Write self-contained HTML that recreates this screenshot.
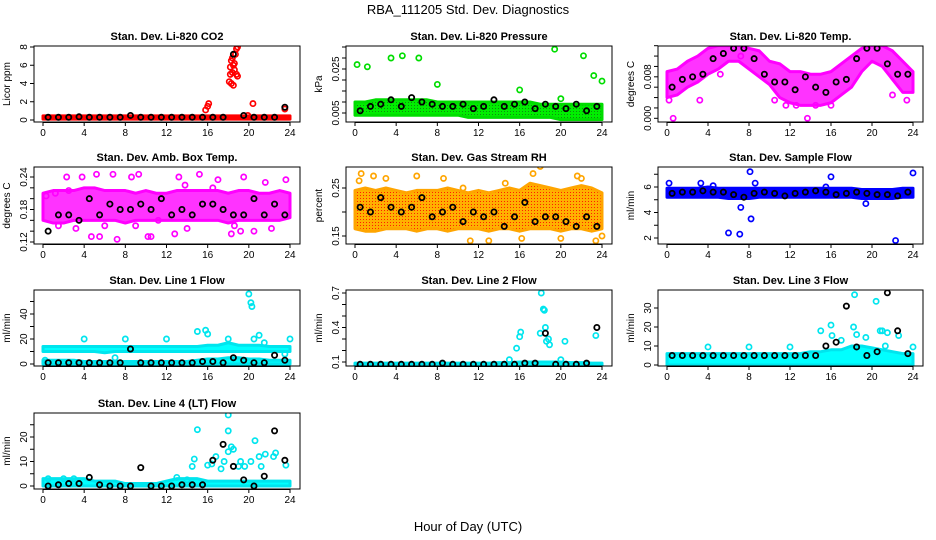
<!DOCTYPE html>
<html><head><meta charset="utf-8">
<style>
html,body{margin:0;padding:0;background:#fff;}
svg{display:block;font-family:"Liberation Sans",sans-serif;}
</style></head>
<body>
<svg id="chart" width="936" height="540" viewBox="0 0 936 540">
<defs>
<pattern id="rhdots" width="3" height="3" patternUnits="userSpaceOnUse"><rect width="3" height="3" fill="#ffb000"/><rect width="1" height="1" fill="#ff2000"/></pattern>
<pattern id="grdots" width="3" height="3" patternUnits="userSpaceOnUse"><rect width="3" height="3" fill="#00ee00"/><rect width="1" height="1" fill="#118811"/></pattern>
</defs>
<text x="468" y="14" text-anchor="middle" font-size="13">RBA_111205  Std. Dev. Diagnostics</text>
<text x="468" y="531" text-anchor="middle" font-size="13">Hour of Day (UTC)</text>
</svg>
<script>
// shared hours
const BAND_HOURS = [0,1,2,3,4,5,6,7,8,9,10,11,12,13,14,15,16,17,18,19,20,21,22,23,24];
const BLACK_HOURS = [0.5,1.5,2.5,3.5,4.5,5.5,6.5,7.5,8.5,9.5,10.5,11.5,12.5,13.5,14.5,15.5,16.5,17.5,18.5,19.5,20.5,21.5,22.5,23.5];
const X_TICKS = [0,4,8,12,16,20,24];

// CO2
const co2Lo = [0.1,0.1,0.1,0.1,0.1,0.1,0.1,0.1,0.1,0.1,0.1,0.1,0.1,0.1,0.1,0.1,0.1,0.1,0.1,0.1,0.1,0.1,0.1,0.1,0.1];
const co2Hi = [0.45,0.45,0.45,0.45,0.45,0.45,0.45,0.45,0.45,0.45,0.45,0.45,0.45,0.45,0.45,0.45,0.45,0.45,0.45,0.45,0.45,0.45,0.45,0.45,0.45];
const co2OutX = [18.1,18.2,18.3,18.4,18.5,18.6,18.7,18.8,18.9,18.8,18.9,18.3,18.5,18.2,18.6,18.4,15.8,16.0,16.1,20.4,23.5,19.9];
const co2OutY = [4.2,5.8,6.5,5.2,3.8,6.2,7.2,7.8,8.0,5.0,4.8,4.0,6.0,5.0,5.5,6.8,1.1,1.5,1.8,1.8,1.2,0.5];
const co2Black = [0.3,0.3,0.3,0.35,0.3,0.3,0.3,0.3,0.5,0.3,0.3,0.3,0.3,0.3,0.3,0.3,0.3,0.3,7.2,0.5,0.3,0.3,0.3,1.4];
// Pressure
const prLo = [0.004,0.004,0.004,0.004,0.004,0.004,0.004,0.004,0.004,0.004,0.004,0.003,0.003,0.003,0.003,0.003,0.003,0.003,0.003,0.003,0.002,0.002,0.002,0.002,0.002];
const prHi = [0.010,0.010,0.011,0.011,0.011,0.011,0.011,0.011,0.010,0.010,0.010,0.010,0.010,0.010,0.010,0.010,0.010,0.010,0.009,0.009,0.009,0.009,0.009,0.009,0.009];
const prOutX = [0.2,1.2,3.5,4.6,6.2,8.0,16.0,19.4,20.0,22.2,23.2,24.0];
const prOutY = [0.027,0.026,0.030,0.031,0.030,0.018,0.0155,0.034,0.0115,0.031,0.022,0.0195];
const prBlack = [0.006,0.008,0.009,0.011,0.008,0.012,0.010,0.009,0.008,0.008,0.009,0.007,0.008,0.011,0.008,0.009,0.010,0.007,0.009,0.008,0.007,0.009,0.006,0.008];
// Li-820 temp
const ltLo = [0.004,0.0045,0.006,0.007,0.0085,0.0095,0.011,0.011,0.0095,0.008,0.0065,0.004,0.003,0.0025,0.0025,0.0025,0.003,0.0045,0.006,0.009,0.011,0.010,0.0075,0.005,0.005];
const ltHi = [0.009,0.0095,0.011,0.012,0.0135,0.014,0.014,0.014,0.0135,0.013,0.011,0.0105,0.009,0.009,0.0085,0.0085,0.009,0.0105,0.012,0.0135,0.014,0.014,0.013,0.011,0.009];
const ltOutX = [0.6,0.2,3.2,5.2,7.2,10.5,11.6,13.7,14.5,16.0,22.0,23.4,12.6];
const ltOutY = [0.0,0.0035,0.0035,0.0085,0.0120,0.0035,0.0025,0.0,0.0025,0.0025,0.0045,0.0035,0.0025];
const ltBlack = [0.006,0.0075,0.008,0.0085,0.0115,0.0125,0.0135,0.0135,0.0115,0.0085,0.007,0.007,0.0055,0.008,0.006,0.005,0.007,0.0075,0.0115,0.0135,0.0135,0.0105,0.0085,0.0085];
// Amb box temp
const abLo = [0.16,0.155,0.155,0.16,0.16,0.16,0.16,0.16,0.155,0.16,0.16,0.16,0.16,0.16,0.16,0.16,0.16,0.16,0.155,0.16,0.16,0.16,0.16,0.16,0.165];
const abHi = [0.21,0.215,0.215,0.215,0.22,0.22,0.215,0.215,0.215,0.21,0.215,0.21,0.21,0.215,0.215,0.215,0.215,0.215,0.21,0.215,0.215,0.21,0.21,0.215,0.21];
const abOutX = [0.3,1.5,2.3,2.5,3.8,4.7,5.2,5.5,6.8,7.2,8.6,9.3,10.2,10.5,11.2,13.2,13.8,15.2,16.5,17.0,18.3,19.2,19.5,20.5,21.6,23.6,3.2,6.0,9.0,14.0,18.6,22.2,1.2,12.8];
const abOutY = [0.205,0.15,0.24,0.215,0.24,0.13,0.245,0.13,0.245,0.125,0.24,0.245,0.13,0.13,0.16,0.24,0.225,0.245,0.22,0.235,0.135,0.14,0.24,0.14,0.23,0.235,0.145,0.15,0.15,0.145,0.15,0.145,0.21,0.135];
const abBlack = [0.14,0.17,0.17,0.16,0.20,0.17,0.19,0.18,0.18,0.19,0.18,0.20,0.17,0.18,0.17,0.19,0.19,0.18,0.17,0.17,0.20,0.17,0.19,0.17];
// RH
const rhLo = [0.165,0.16,0.16,0.165,0.165,0.165,0.16,0.165,0.165,0.16,0.165,0.165,0.165,0.16,0.165,0.165,0.16,0.165,0.165,0.165,0.16,0.165,0.165,0.16,0.165];
const rhHi = [0.245,0.25,0.245,0.25,0.245,0.24,0.245,0.245,0.245,0.25,0.245,0.24,0.245,0.24,0.245,0.25,0.245,0.26,0.255,0.25,0.245,0.25,0.255,0.25,0.24];
const rhOutX = [0.4,0.6,1.8,3.0,6.0,8.6,11.2,13.0,14.6,16.2,17.3,18.0,20.0,21.6,23.4,24.0,10.5,22.0];
const rhOutY = [0.265,0.28,0.275,0.27,0.275,0.27,0.14,0.14,0.26,0.145,0.28,0.295,0.145,0.275,0.14,0.15,0.25,0.27];
const rhBlack = [0.21,0.20,0.23,0.21,0.20,0.21,0.23,0.19,0.20,0.21,0.18,0.20,0.19,0.20,0.17,0.19,0.22,0.18,0.19,0.19,0.18,0.17,0.19,0.17];
// Sample flow
const sfLo = [5.2,5.2,5.2,5.2,5.2,5.2,5.1,5.1,5.1,5.2,5.2,5.2,5.2,5.2,5.2,5.2,5.2,5.2,5.2,5.1,5.1,5.1,5.1,5.2,5.2];
const sfHi = [5.9,5.9,5.9,5.9,6.0,5.9,5.9,5.9,5.9,5.9,5.9,5.9,5.9,5.9,5.9,5.9,5.9,5.9,5.9,5.8,5.8,5.8,5.8,5.9,5.9];
const sfOutX = [6.0,7.1,7.2,8.1,8.2,8.6,16.0,22.3,24.0,0.2,3.3,19.4,4.5,15.5];
const sfOutY = [2.4,2.3,4.4,7.2,3.5,6.3,6.8,1.8,7.1,6.3,6.3,4.7,6.1,6.0];
const sfBlack = [5.5,5.6,5.6,5.7,5.6,5.6,5.4,5.2,5.5,5.6,5.5,5.3,5.5,5.6,5.7,5.6,5.4,5.5,5.6,5.5,5.4,5.4,5.3,5.6];
// Line 1
const l1Lo = [10,10,10,10,10,10,9,10,10,10,10,10,10,10,10,10,10,10,10,10,10,10,10,10,10];
const l1Hi = [14,14,14,14,14,14,14,14,14,14,14,14,14,14,14,14,15,15,17,15,15,15,14,14,14];
const l1Out2Hi = [3,3,3,3,2,2,2,2,2,2,2,2,2,2,2,3,4,4,5,5,4,4,3,3,3];
const l1OutX = [4,8,12,15,15.8,16,20,20.2,20.3,21,20.5,24,18,21.5,0.2,7.0,23.5];
const l1OutY = [20,20,20,26,27,24,56,49,46,23,20,20,20,17,3,5,8];
const l1Black = [1,1,1,1,1,1,1,1,12,1,1,1,1,1,1,2,2,1,5,3,1,1,7,3];
// Line 2
const l2Lo = [0.065,0.065,0.065,0.065,0.065,0.065,0.065,0.065,0.065,0.065,0.065,0.065,0.065,0.065,0.065,0.065,0.065,0.065,0.065,0.065,0.065,0.065,0.065,0.065,0.065];
const l2Hi = [0.09,0.09,0.09,0.09,0.09,0.09,0.09,0.09,0.09,0.09,0.09,0.09,0.09,0.09,0.095,0.095,0.1,0.1,0.1,0.1,0.1,0.095,0.095,0.09,0.09];
const l2OutX = [15.7,16.0,16.1,18.0,18.1,18.3,18.4,18.6,18.8,18.5,18.9,20.4,23.4,15.0,20.0];
const l2OutY = [0.22,0.32,0.36,0.35,0.7,0.56,0.55,0.28,0.3,0.4,0.25,0.28,0.33,0.12,0.12];
const l2Black = [0.08,0.08,0.08,0.08,0.08,0.08,0.08,0.08,0.09,0.08,0.08,0.08,0.08,0.08,0.08,0.08,0.09,0.09,0.35,0.08,0.08,0.08,0.09,0.4];
// Line 3
const l3Lo = [0,0,0,0,0,0,0,0,0,0,0,0,0,0,0,0,0,0,0,0,0,0,0,0,0];
const l3Hi = [6,6,6,6,6,6,6,6,6,6,6,6,6,6,7,7,8,8,10,10,9,8,7,6,6];
const l3OutX = [4,8,12,15,16,16.1,18.3,18.2,18.5,19.4,20.4,20.8,21,21.3,21.5,22.6,24,17];
const l3OutY = [9.5,9.5,9.5,18,21,15.5,37,20,16,14.5,33.5,18,18,10,17,15.5,9.5,13];
const l3Black = [5,5,5,5,5,5,5,5,5,5,5,5,5,5,5,10,12,31,9.5,5,7,38,18,6];
// Line 4
const l4Lo = [0,0,0,0,0,0,0,0,0,0,0,0,0,0,0,0,0,0,0,0,0,0,0,0,0];
const l4Hi = [3,3,3,3,3,2,2,2,1,1,1,1,2,3,3,3,2,2,2,2,2,2,2,2,2];
const l4OutX = [15,14.7,14.5,16,16.4,16.8,17.3,17.6,18,18,18,18.3,18.5,19,19.2,19.6,20.2,20.6,21,21.2,21.6,22.4,22.6,23.6,13,14,0.5,2,3];
const l4OutY = [23,11,8,8.5,9,12,7,10,29,22.5,14,16,15,8,10,8,10,18.5,12,8,13,12,13.5,8.5,3.5,2.5,3,3,3];
const l4Black = [0,0.5,1,1,3.5,0.5,0,0,0,7.5,0,0,0,0.5,0.5,0.5,10.5,17,8,2.5,0,4,22.5,10.5];

const COLS = [[34,300],[346,612],[658,923]];
const ROWS = [[46,122],[167,244],[290,366],[413,489]];
const svg = document.getElementById('chart');
const NS = 'http://www.w3.org/2000/svg';
function mk(tag, attrs, parent){
  const e = document.createElementNS(NS, tag);
  for (const k in attrs) e.setAttribute(k, attrs[k]);
  (parent||svg).appendChild(e);
  return e;
}

const panels = [
 {id:'co2',title:'Stan. Dev. Li-820 CO2',ylab:'Licor ppm',c:0,r:0,ref:[0,120,8,47],ticks:[0,2,4,6,8],labels:['0','2','4','6','8'],color:'#ff0000',fill:'#ff0000',bands:[[co2Lo,co2Hi]],ox:co2OutX,oy:co2OutY,black:co2Black},
 {id:'pressure',title:'Stan. Dev. Li-820 Pressure',ylab:'kPa',c:1,r:0,ref:[0.005,113,0.025,69],ticks:[0.005,0.01,0.015,0.02,0.025,0.03,0.035],labels:['0.005','','','','0.025','',''],color:'#00dd00',fill:'url(#grdots)',bands:[[prLo,prHi]],ox:prOutX,oy:prOutY,black:prBlack},
 {id:'li820-temp',title:'Stan. Dev. Li-820 Temp.',ylab:'degrees C',c:2,r:0,ref:[0,118.3,0.014,45.7],ticks:[0,0.002,0.004,0.006,0.008,0.010,0.012,0.014],labels:['0.000','','','','0.008','','',''],color:'#ff00ff',fill:'#ff33ff',bands:[[ltLo,ltHi]],ox:ltOutX,oy:ltOutY,black:ltBlack},
 {id:'amb-box-temp',title:'Stan. Dev. Amb. Box Temp.',ylab:'degrees C',c:0,r:1,ref:[0.12,242,0.24,177],ticks:[0.12,0.14,0.16,0.18,0.20,0.22,0.24],labels:['0.12','','','0.18','','','0.24'],color:'#ff00ff',fill:'#ff33ff',bands:[[abLo,abHi]],ox:abOutX,oy:abOutY,black:abBlack},
 {id:'gas-rh',title:'Stan. Dev. Gas Stream RH',ylab:'percent',c:1,r:1,ref:[0.15,236,0.25,188],ticks:[0.15,0.2,0.25],labels:['0.15','','0.25'],color:'#ffa500',fill:'url(#rhdots)',bands:[[rhLo,rhHi]],ox:rhOutX,oy:rhOutY,black:rhBlack},
 {id:'sample-flow',title:'Stan. Dev. Sample Flow',ylab:'ml/min',c:2,r:1,ref:[2,238,6,187],ticks:[2,3,4,5,6,7],labels:['2','','4','','6',''],color:'#0000ff',fill:'#0000ff',bands:[[sfLo,sfHi]],ox:sfOutX,oy:sfOutY,black:sfBlack},
 {id:'line1-flow',title:'Stan. Dev. Line 1 Flow',ylab:'ml/min',c:0,r:2,ref:[0,364,40,314],ticks:[0,10,20,30,40,50],labels:['0','','20','','40',''],color:'#00e5ee',fill:'#00ffff',bands:[[l1Lo,l1Hi],[l4Lo,l1Out2Hi]],ox:l1OutX,oy:l1OutY,black:l1Black},
 {id:'line2-flow',title:'Stan. Dev. Line 2 Flow',ylab:'ml/min',c:1,r:2,ref:[0.1,362,0.7,293],ticks:[0.1,0.2,0.3,0.4,0.5,0.6,0.7],labels:['0.1','','','0.4','','','0.7'],color:'#00e5ee',fill:'#00ffff',bands:[[l2Lo,l2Hi]],ox:l2OutX,oy:l2OutY,black:l2Black},
 {id:'line3-flow',title:'Stan. Dev. Line 3 Flow',ylab:'ml/min',c:2,r:2,ref:[0,365,30,308],ticks:[0,10,20,30],labels:['0','10','20','30'],color:'#00e5ee',fill:'#00ffff',bands:[[l3Lo,l3Hi]],ox:l3OutX,oy:l3OutY,black:l3Black},
 {id:'line4-flow',title:'Stan. Dev. Line 4 (LT) Flow',ylab:'ml/min',c:0,r:3,ref:[0,486,20,437],ticks:[0,5,10,15,20,25],labels:['0','','10','','20',''],color:'#00e5ee',fill:'#00ffff',bands:[[l4Lo,l4Hi]],ox:l4OutX,oy:l4OutY,black:l4Black}
];

panels.forEach(p=>{
  const [L,R] = COLS[p.c], [T,B] = ROWS[p.r];
  const xs = h => L+9 + h*(R-L-19)/24;
  const k = (p.ref[3]-p.ref[1])/(p.ref[2]-p.ref[0]);
  const ys = v => p.ref[1] + (v-p.ref[0])*k;
  const g = mk('g',{});
  
  
  const cp = mk('clipPath',{id:'clip-'+p.id},g);
  mk('rect',{x:L,y:T,width:R-L,height:B-T},cp);
  const t = mk('text',{x:(L+R)/2,y:T-6,'text-anchor':'middle','font-size':'11','font-weight':'bold'},g);
  t.textContent = p.title;
  
  
  const data = mk('g',{'clip-path':'url(#clip-'+p.id+')'},g);
  
  
  p.bands.forEach(([lo,hi])=>{
    let pts = BAND_HOURS.map((h,i)=>xs(h)+','+ys(hi[i]));
    pts = pts.concat(BAND_HOURS.map((h,i)=>xs(h)+','+ys(lo[i])).reverse());
    const poly = mk('polygon',{points:pts.join(' '),fill:p.fill,stroke:p.color,'stroke-width':'3','stroke-linejoin':'round'},data);
    
    
  });
  p.ox.forEach((h,i)=>{
    const c = mk('circle',{cx:xs(h),cy:ys(p.oy[i]),r:2.6,fill:'none',stroke:p.color,'stroke-width':'1.7'},data);
    
    
  });
  BLACK_HOURS.forEach((h,i)=>{
    const c = mk('circle',{cx:xs(h),cy:ys(p.black[i]),r:2.6,fill:'none',stroke:'#000','stroke-width':'1.8'},data);
    
    
  });
  const box = mk('rect',{x:L,y:T,width:R-L,height:B-T,fill:'none',stroke:'#000','stroke-width':'1'},g);
  
  
  const xa = mk('g',{},g);
  
  
  mk('line',{x1:xs(0),x2:xs(24),y1:B+0.5,y2:B+0.5,stroke:'#000'},xa);
  X_TICKS.forEach(h=>{
    mk('line',{x1:xs(h),x2:xs(h),y1:B,y2:B+4,stroke:'#000'},xa);
    const tl = mk('text',{x:xs(h),y:B+14,'text-anchor':'middle','font-size':'10'},xa);
    tl.textContent = h;
  });
  const ya = mk('g',{},g);
  
  
  p.ticks.forEach((v,i)=>{
    const y = ys(v);
    mk('line',{x1:L-4,x2:L,y1:y,y2:y,stroke:'#000'},ya);
    if (p.labels[i]) {
      const tl = mk('text',{x:L-7,y:y,'text-anchor':'middle','font-size':'10',transform:'rotate(-90 '+(L-7)+' '+y+')'},ya);
      tl.textContent = p.labels[i];
    }
  });
  const yl = mk('text',{x:L-24,y:(T+B)/2,'text-anchor':'middle','font-size':'10',transform:'rotate(-90 '+(L-24)+' '+((T+B)/2)+')'},g);
  yl.textContent = p.ylab;
  
  
});
</script>
</body></html>
